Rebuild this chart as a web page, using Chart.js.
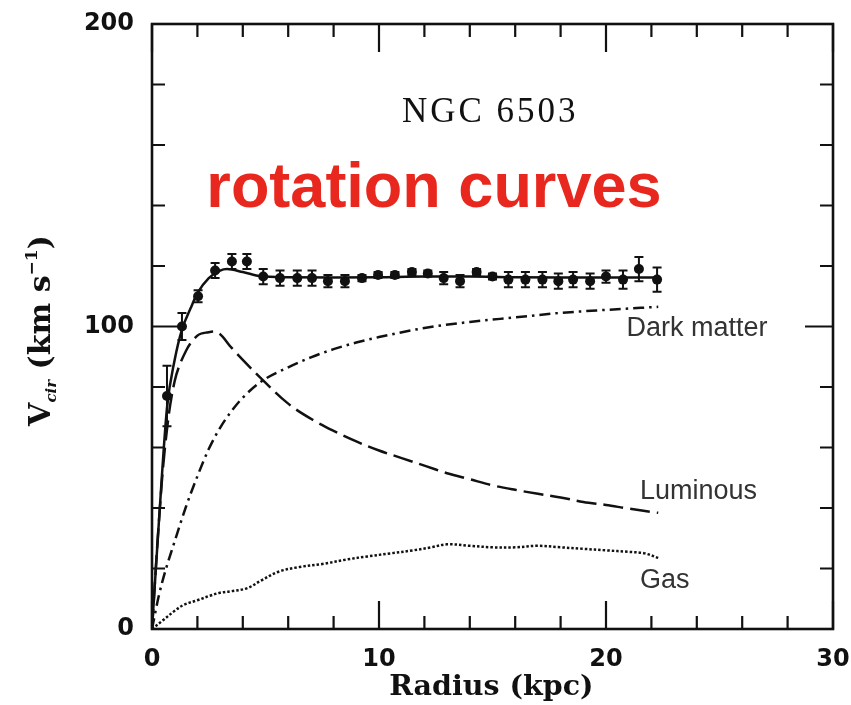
<!DOCTYPE html>
<html><head><meta charset="utf-8">
<script src="https://cdn.jsdelivr.net/npm/chart.js@4/dist/chart.umd.min.js"></script>
<style>html,body{margin:0;padding:0;background:#fff;}#wrap{width:851px;height:705px;}</style>
</head><body><div id="wrap"><canvas id="c" width="851" height="705"></canvas></div>
<script>
// ---- data ----
const obsRadius   = [0.66,1.32,2.03,2.78,3.52,4.18,4.9,5.64,6.4,7.05,7.75,8.5,9.25,9.96,10.7,11.45,12.15,12.85,13.57,14.3,15.0,15.7,16.45,17.2,17.9,18.55,19.3,20.0,20.75,21.45,22.25];
const obsVelocity = [77,100,110,118.5,121.5,121.5,116.5,116,116,116,115,115,116,117,117,118,117.5,116,115,118,116.5,115.5,115.5,115.5,115,115.5,115,116.5,115.5,119,115.5];
const obsError    = [10,4.5,2,2.5,2.5,2.5,2.5,2.5,2.5,2.5,2,2,1,1,1,1,1,2,2,1,1,2.5,2.5,2.5,2.5,2.5,2.5,2,3,4,4];

const totalRadius   = [0,0.3,0.66,1,1.32,1.7,2,2.5,3,3.3,4,4.8,6,8,10,12,14,16,18,20,22.3];
const totalVelocity = [0,35,73,89,99,106,111,116,118.5,119,118,116.6,116.3,116.2,116.3,116.5,116.5,116.3,116.2,116.2,116.2];

const lumRadius   = [0,0.3,0.6,1,1.5,2,2.4,2.9,3.5,4,4.85,6,7,8,9,10,11,12,13,14,15,16,17,18,19,20,21,22.3];
const lumVelocity = [0,35,62,82,92,97,98,98,93,89,82.5,74.5,69.5,65.5,62,59,56.5,54,51.5,49.5,47.5,46,44.7,43.5,42,41,39.8,38.4];

const dmRadius   = [0,0.3,0.6,1,1.5,2,2.5,3,3.5,4,4.85,6,7,8,9,10,12,14,16,18,20,22.3];
const dmVelocity = [0,11,19.5,29,40.5,50.5,59.5,66.5,72,76.5,82,86.5,89.8,92.5,94.7,96.5,99.5,101.5,103,104.5,105.5,106.5];

const gasRadius   = [0,0.5,1,1.4,2,2.55,3,3.5,4.2,4.8,5.6,6.5,7.5,8.6,9.5,10.5,11.5,12.3,13,14,15,16,17,18,19,20,21,21.7,22.3];
const gasVelocity = [0,3,6,8,9.5,11,12,12.5,13.5,16,19,20.5,21.5,23,24,25,26,27,28,27.5,27,27,27.5,27,26.5,26,25.5,25,23.5];

const xTickLabels = [0,10,20,30];
const yTickLabels = [0,100,200];
const curveLabels = ['Dark matter','Luminous','Gas'];
const galaxyName = 'NGC 6503';
const overlayTitle = 'rotation curves';
const xAxisTitle = 'Radius (kpc)';

// ---- build datasets ----
const pts = (xs, ys) => xs.map((x, i) => ({x: x, y: ys[i]}));
const INK = '#111';

const frameTicks = {
  id: 'frameTicks',
  afterDraw(chart) {
    const {ctx, chartArea: a, scales: {x, y}} = chart;
    ctx.save();
    ctx.strokeStyle = INK;
    ctx.lineWidth = 2.6;
    ctx.strokeRect(a.left, a.top, a.right - a.left, a.bottom - a.top);
    ctx.lineWidth = 2.2;
    ctx.beginPath();
    for (let v = 0; v <= 30; v += 2) {
      const px = x.getPixelForValue(v);
      const len = (v % 10 === 0) ? 28 : 13;
      ctx.moveTo(px, a.bottom); ctx.lineTo(px, a.bottom - len);
      ctx.moveTo(px, a.top); ctx.lineTo(px, a.top + len);
    }
    for (let v = 0; v <= 200; v += 20) {
      const py = y.getPixelForValue(v);
      const len = (v % 100 === 0) ? 28 : 13;
      ctx.moveTo(a.left, py); ctx.lineTo(a.left + len, py);
      ctx.moveTo(a.right, py); ctx.lineTo(a.right - len, py);
    }
    ctx.stroke();
    ctx.restore();
  }
};

const errorBars = {
  id: 'errorBars',
  afterDatasetsDraw(chart) {
    const {ctx, scales: {x, y}} = chart;
    ctx.save();
    ctx.strokeStyle = INK;
    ctx.lineWidth = 2;
    ctx.beginPath();
    obsRadius.forEach((r, i) => {
      const px = x.getPixelForValue(r);
      const top = y.getPixelForValue(obsVelocity[i] + obsError[i]);
      const bot = y.getPixelForValue(obsVelocity[i] - obsError[i]);
      ctx.moveTo(px, top); ctx.lineTo(px, bot);
      ctx.moveTo(px - 4.5, top); ctx.lineTo(px + 4.5, top);
      ctx.moveTo(px - 4.5, bot); ctx.lineTo(px + 4.5, bot);
    });
    ctx.stroke();
    ctx.restore();
  }
};

const annotations = {
  id: 'annotations',
  afterDraw(chart) {
    const {ctx, scales: {x, y}} = chart;
    ctx.save();
    // curve labels
    ctx.fillStyle = '#333';
    ctx.font = '27px "Liberation Sans", Arial, sans-serif';
    ctx.textAlign = 'left';
    ctx.textBaseline = 'middle';
    ctx.fillText(curveLabels[0], x.getPixelForValue(20.9), y.getPixelForValue(99.3));
    ctx.fillText(curveLabels[1], x.getPixelForValue(21.5), y.getPixelForValue(45.5));
    ctx.fillText(curveLabels[2], x.getPixelForValue(21.5), y.getPixelForValue(16));
    // galaxy name (typewriter-like serif)
    ctx.fillStyle = INK;
    ctx.font = '35px "Liberation Serif", "Times New Roman", serif';
    ctx.textAlign = 'center';
    try { ctx.letterSpacing = '3px'; } catch (e) {}
    ctx.fillText(galaxyName, x.getPixelForValue(14.9), y.getPixelForValue(170.8));
    try { ctx.letterSpacing = '0px'; } catch (e) {}
    // red overlay title
    ctx.fillStyle = '#e8281e';
    ctx.font = 'bold 63px "Liberation Sans", Arial, sans-serif';
    ctx.textBaseline = 'alphabetic';
    ctx.fillText(overlayTitle, x.getPixelForValue(12.42), y.getPixelForValue(139.4));
    // x axis title
    ctx.fillStyle = INK;
    ctx.font = 'bold 28.5px "DejaVu Serif", serif';
    ctx.textBaseline = 'middle';
    ctx.fillText(xAxisTitle, x.getPixelForValue(14.95), 688);
    // y axis title with subscript / superscript
    const parts = [
      {t: 'V', f: 'bold 30px "DejaVu Serif", serif', dy: 0},
      {t: 'cir', f: 'italic bold 15px "DejaVu Serif", serif', dy: 6},
      {t: ' (km s', f: 'bold 30px "DejaVu Serif", serif', dy: 0},
      {t: '\u22121', f: 'bold 17px "DejaVu Serif", serif', dy: -13},
      {t: ')', f: 'bold 30px "DejaVu Serif", serif', dy: 0}
    ];
    let total = 0;
    parts.forEach(p => { ctx.font = p.f; p.w = ctx.measureText(p.t).width; total += p.w; });
    ctx.translate(50, (y.getPixelForValue(0) + y.getPixelForValue(200)) / 2 + 4);
    ctx.rotate(-Math.PI / 2);
    ctx.textAlign = 'left';
    ctx.textBaseline = 'alphabetic';
    let cx = -total / 2;
    parts.forEach(p => { ctx.font = p.f; ctx.fillText(p.t, cx, p.dy); cx += p.w; });
    ctx.restore();
  }
};

new Chart(document.getElementById('c'), {
  type: 'scatter',
  data: {
    datasets: [
      {label: 'Observed', type: 'scatter', data: pts(obsRadius, obsVelocity),
       pointRadius: 5, pointBackgroundColor: INK, pointBorderColor: INK, pointBorderWidth: 0, order: 0},
      {label: 'Total', type: 'line', data: pts(totalRadius, totalVelocity), showLine: true,
       borderColor: INK, borderWidth: 2.5, pointRadius: 0, cubicInterpolationMode: 'monotone', fill: false, order: 1},
      {label: 'Luminous', type: 'line', data: pts(lumRadius, lumVelocity), showLine: true,
       borderColor: INK, borderWidth: 2.5, borderDash: [20, 7], pointRadius: 0, tension: 0.35, fill: false, order: 2},
      {label: 'Dark matter', type: 'line', data: pts(dmRadius, dmVelocity), showLine: true,
       borderColor: INK, borderWidth: 2.5, borderDash: [11, 5, 2.5, 5], pointRadius: 0, cubicInterpolationMode: 'monotone', fill: false, order: 3},
      {label: 'Gas', type: 'line', data: pts(gasRadius, gasVelocity), showLine: true,
       borderColor: INK, borderWidth: 2.5, borderDash: [2.5, 2], pointRadius: 0, tension: 0.35, fill: false, order: 4}
    ]
  },
  options: {
    responsive: false,
    animation: false,
    devicePixelRatio: 1,
    layout: {padding: {top: 24, right: 18, left: 0, bottom: 0}},
    plugins: {legend: {display: false}, tooltip: {enabled: false}, title: {display: false}},
    scales: {
      x: {
        type: 'linear', min: 0, max: 30,
        afterBuildTicks: s => { s.ticks = xTickLabels.map(v => ({value: v})); },
        afterFit: s => { s.height = 76; s.paddingLeft = 0; s.paddingRight = 0; },
        grid: {display: false},
        border: {display: false},
        ticks: {color: INK, padding: 8, maxRotation: 0, font: {family: '"DejaVu Sans", sans-serif', size: 24, weight: 'bold'}}
      },
      y: {
        type: 'linear', min: 0, max: 200,
        afterBuildTicks: s => { s.ticks = yTickLabels.map(v => ({value: v})); },
        afterFit: s => { s.width = 152; s.paddingTop = 0; s.paddingBottom = 0; },
        grid: {display: false},
        border: {display: false},
        ticks: {color: INK, padding: 10, font: {family: '"DejaVu Sans", sans-serif', size: 24, weight: 'bold'}}
      }
    }
  },
  plugins: [frameTicks, errorBars, annotations]
});
</script></body></html>
